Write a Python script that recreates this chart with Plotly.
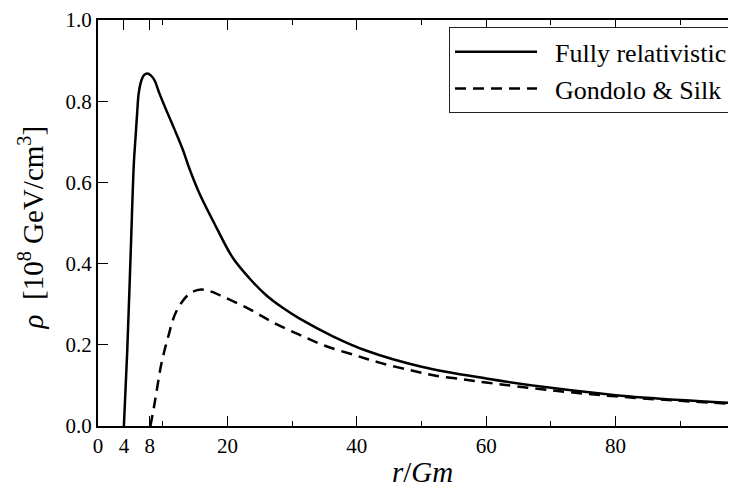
import plotly.graph_objects as go

# Fully relativistic profile
r_full = [4.0, 4.52, 5.05, 5.55, 5.82, 6.08, 6.28, 6.7, 7.1, 7.62, 8.2, 8.75, 9.52, 10.55,
          11.84, 13.1, 14.15, 15.7, 18.27, 20.8, 23.4, 26.0, 28.55, 31.1, 36.3, 41.4,
          50, 60, 70, 80, 90, 100]
rho_full = [0.0, 0.185, 0.425, 0.65, 0.715, 0.778, 0.818, 0.851, 0.864, 0.868, 0.863,
            0.851, 0.818, 0.778, 0.73, 0.681, 0.633, 0.572, 0.49, 0.415, 0.364, 0.322,
            0.291, 0.265, 0.221, 0.186, 0.146, 0.117, 0.094, 0.076, 0.064, 0.055]

# Gondolo & Silk profile
r_gs = [8.1, 8.6, 9.0, 9.78, 10.8, 12.1, 14.15, 15.96, 17.5, 19.4, 23.4, 27.3, 31.1,
        35.2, 40, 43.5, 48.1, 52.2, 56.9, 60, 70, 80, 90, 100]
rho_gs = [0.0, 0.042, 0.08, 0.152, 0.217, 0.282, 0.326, 0.336, 0.331, 0.318, 0.288,
          0.253, 0.225, 0.197, 0.173, 0.156, 0.138, 0.124, 0.114, 0.107, 0.088, 0.073,
          0.062, 0.053]

x_major = [0, 4, 8, 20, 40, 60, 80]
x_minor = [10, 30, 50, 70, 90]
y_ticks = [0.0, 0.2, 0.4, 0.6, 0.8, 1.0]
y_labels = ["0.0", "0.2", "0.4", "0.6", "0.8", "1.0"]

FONT = "Liberation Serif"

fig = go.Figure()
fig.add_trace(go.Scatter(x=r_full, y=rho_full, mode="lines", name="  Fully relativistic",
                         line=dict(color="black", width=2.5, shape="spline", smoothing=1.0)))
fig.add_trace(go.Scatter(x=r_gs, y=rho_gs, mode="lines", name="  Gondolo &amp; Silk",
                         line=dict(color="black", width=2.5, dash="11px,7px",
                                   shape="spline", smoothing=1.0)))

fig.update_layout(
    width=739, height=483,
    margin=dict(l=90, r=0, t=5, b=65),
    plot_bgcolor="white", paper_bgcolor="white",
    font=dict(family=FONT, color="black", size=21),
    showlegend=True,
    legend=dict(x=0.9815, xanchor="right", y=0.982, yanchor="top",
                bordercolor="#222222", borderwidth=1, bgcolor="white",
                font=dict(family=FONT, size=26), itemwidth=82,
                tracegroupgap=0),
    xaxis=dict(range=[0, 100], tickmode="array", tickvals=x_major,
               ticktext=[str(v) for v in x_major],
               ticks="inside", ticklen=10, tickwidth=1, tickcolor="black",
               showline=True, linecolor="black", linewidth=2, mirror="ticks",
               showgrid=False, zeroline=False, ticklabeloverflow="allow",
               minor=dict(tickvals=x_minor, ticks="inside", ticklen=5, tickwidth=1,
                          tickcolor="black", showgrid=False),
               tickfont=dict(size=21)),
    yaxis=dict(range=[0, 1.0], tickmode="array", tickvals=y_ticks, ticktext=y_labels,
               ticks="inside", ticklen=10, tickwidth=1, tickcolor="black",
               showline=True, linecolor="black", linewidth=2, mirror="ticks",
               showgrid=False, zeroline=False, ticklabeloverflow="allow",
               tickfont=dict(size=21)),
    annotations=[
        dict(text="<i>r</i>/<i>Gm</i>", xref="paper", yref="paper", x=0.502, y=-0.113,
             xanchor="center", yanchor="middle", showarrow=False,
             font=dict(family=FONT, size=29)),
        dict(text="<i>ρ</i>  [10<sup>8</sup> GeV/cm<sup>3</sup>]", xref="paper",
             yref="paper", x=-0.103, y=0.49, xanchor="center", yanchor="middle",
             textangle=-90, showarrow=False, font=dict(family=FONT, size=29)),
    ],
)

fig.write_html("out.html")
